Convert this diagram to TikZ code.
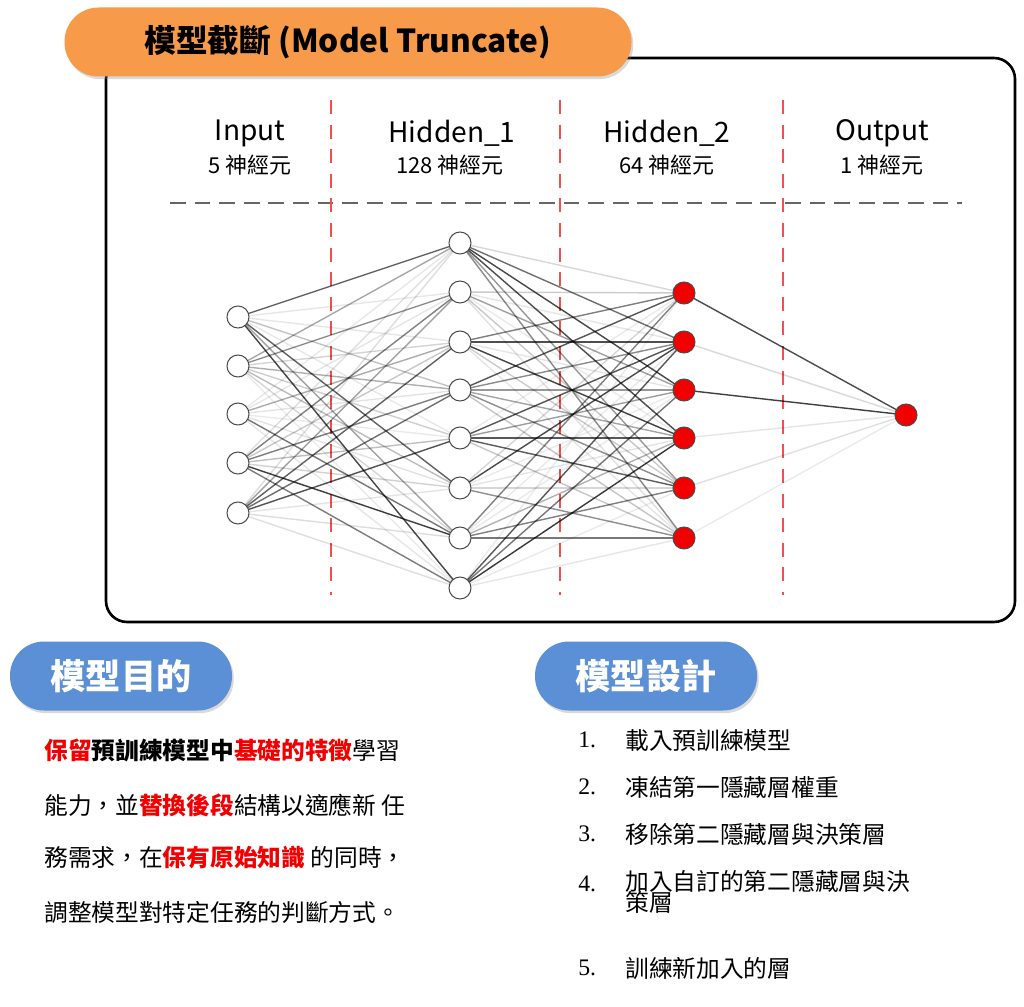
\documentclass[tikz,border=0pt]{standalone}
\usepackage{fontspec}
\setmainfont{Noto Sans CJK TC}
\newfontfamily\serifnum{Liberation Serif}
\usetikzlibrary{shadows}
\definecolor{pillorange}{HTML}{F79A4A}
\definecolor{pillblue}{HTML}{5B8FD6}
\definecolor{nred}{HTML}{F20000}
\definecolor{dred}{HTML}{F05050}
\newcommand{\rb}[1]{\textbf{\color{nred}#1}}
\begin{document}
\begin{tikzpicture}[x=0.02cm,y=-0.02cm,
  pill/.style={rounded corners=34*0.02cm, minimum height=69*0.02cm, inner sep=0pt, drop shadow={opacity=0.3,shadow xshift=1pt,shadow yshift=-1.5pt}},
  neuron/.style={circle,draw=black!70,line width=0.6pt,minimum size=22*0.02cm,inner sep=0pt,fill=white},
  rneuron/.style={neuron,fill=nred},
  hdr/.style={font=\fontsize{16}{16}\selectfont},
  sub/.style={font=\fontsize{12.5}{13}\selectfont},
  para/.style={anchor=west,font=\fontsize{13.5}{14}\selectfont,inner sep=0pt},
  item/.style={anchor=west,font=\fontsize{13.5}{14}\selectfont,inner sep=0pt,align=left}]
\useasboundingbox (0,0) rectangle (1024,1007);
\draw[line width=1.5pt,rounded corners=12] (106,58) rectangle (1015,622);
\node[pill,fill=pillorange,minimum width=567*0.02cm] (title) at (348,42) {\fontsize{18}{18}\selectfont\bfseries 模型截斷 (Model Truncate)};
% headers
\node[hdr] (hi) at (250,133) {Input};
\node[sub] (si) at (250,165) {5 神經元};
\node[hdr] (h1) at (452,133) {Hidden\_1};
\node[sub] (s1) at (450,165) {128 神經元};
\node[hdr] (h2) at (667,133) {Hidden\_2};
\node[sub] (s2) at (667,165) {64 神經元};
\node[hdr] (ho) at (882,133) {Output};
\node[sub] (so) at (882,165) {1 神經元};
\draw[gray!80!black,dashed,line width=1.6pt,dash pattern=on 9pt off 5pt] (170,203) -- (962,203);
\foreach \x in {331,560,783} \draw[dred,line width=1.3pt,dash pattern=on 8pt off 6pt] (\x,100) -- (\x,595);
% nodes coords
\foreach \y [count=\i] in {317,366,414,463,513} \coordinate (a\i) at (238,\y);
\foreach \y [count=\i] in {243,292,342,390,438,488,538,588} \coordinate (b\i) at (460,\y);
\foreach \y [count=\i] in {293,342,390,438,488,538} \coordinate (c\i) at (684,\y);
\coordinate (d1) at (906,415);
\pgfmathsetseed{7}
\foreach \i in {1,...,5} \foreach \j in {1,...,8} {
  \pgfmathsetmacro\op{0.08+0.7*rnd^2}
  \draw[black,opacity=\op,line width=0.8pt] (a\i) -- (b\j);}
\foreach \i in {1,...,8} \foreach \j in {1,...,6} {
  \pgfmathsetmacro\op{0.08+0.7*rnd^2}
  \draw[black,opacity=\op,line width=0.8pt] (b\i) -- (c\j);}
\foreach \j/\op in {1/0.7,2/0.15,3/0.75,4/0.1,5/0.12,6/0.08}
  \draw[black,opacity=\op,line width=0.8pt] (c\j) -- (d1);
\foreach \i in {1,...,5} \node[neuron] (na\i) at (a\i) {};
\foreach \i in {1,...,8} \node[neuron] (nb\i) at (b\i) {};
\foreach \i in {1,...,6} \node[rneuron] (nc\i) at (c\i) {};
\node[rneuron] (nd1) at (d1) {};
% bottom pills
\node[pill,fill=pillblue,minimum width=222*0.02cm,text=white] (p1) at (121,676) {\fontsize{20}{20}\selectfont\bfseries 模型目的};
\node[pill,fill=pillblue,minimum width=222*0.02cm,text=white] (p2) at (646,676) {\fontsize{20}{20}\selectfont\bfseries 模型設計};
\node[para] (l1) at (44,750) {\rb{保留}\textbf{預訓練模型中}\rb{基礎的特徵}學習};
\node[para] (l2) at (44,805) {能力，並\rb{替換後段}結構以適應新 任};
\node[para] (l3) at (44,858) {務需求，在\rb{保有原始知識} 的同時，};
\node[para] (l4) at (44,912) {調整模型對特定任務的判斷方式。};
\foreach \n/\y/\t in {1/740/載入預訓練模型,2/787/凍結第一隱藏層權重,3/834/移除第二隱藏層與決策層,5/968/訓練新加入的層}{
  \node[item] (n\n) at (578,\y) {\serifnum\n.};
  \node[item] (t\n) at (625,\y) {\t};}
\node[item] (n4) at (578,884) {\serifnum 4.};
\node[item,anchor=north west] (t4) at (625,870) {加入自訂的第二隱藏層與決\\[-2pt]\hspace*{0pt}策層};
\end{tikzpicture}
\end{document}
